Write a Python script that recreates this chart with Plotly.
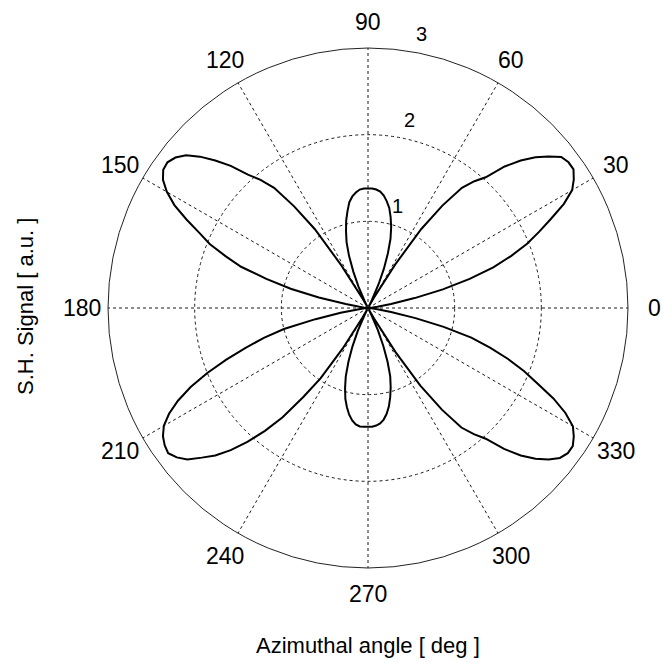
import numpy as np
import plotly.graph_objects as go

# Azimuthal angle of the sample (deg) and second-harmonic signal (a.u.)
azimuth_deg = list(range(0, 360, 2))
sh_signal = [
    # 0 - 88
    0.00, 0.00, 0.01, 0.04, 0.11, 0.27, 0.55, 0.89, 1.22, 1.52,
    1.76, 1.98, 2.16, 2.35, 2.56, 2.72, 2.80, 2.86, 2.86, 2.83,
    2.72, 2.60, 2.45, 2.27, 2.03, 1.91, 1.76, 1.46, 1.10, 0.59,
    0.14, 0.02, 0.10, 0.30, 0.49, 0.67, 0.84, 0.97, 1.08, 1.18,
    1.25, 1.31, 1.35, 1.37, 1.38,
    # 90 - 178
    1.38, 1.38, 1.37, 1.34, 1.30, 1.24, 1.14, 1.04, 0.92, 0.80,
    0.64, 0.45, 0.27, 0.09, 0.02, 0.12, 0.58, 1.10, 1.45, 1.76,
    1.93, 2.07, 2.28, 2.45, 2.61, 2.74, 2.82, 2.86, 2.85, 2.79,
    2.68, 2.53, 2.33, 2.13, 1.97, 1.75, 1.54, 1.22, 0.92, 0.58,
    0.26, 0.10, 0.04, 0.01, 0.00,
    # 180 - 268
    0.00, 0.00, 0.01, 0.04, 0.12, 0.32, 0.62, 1.00, 1.25, 1.48,
    1.74, 2.00, 2.24, 2.44, 2.60, 2.72, 2.79, 2.83, 2.85, 2.80,
    2.72, 2.58, 2.45, 2.28, 2.08, 1.85, 1.60, 1.27, 0.98, 0.55,
    0.13, 0.02, 0.09, 0.29, 0.48, 0.66, 0.83, 0.96, 1.08, 1.17,
    1.25, 1.31, 1.35, 1.37, 1.37,
    # 270 - 358
    1.37, 1.37, 1.36, 1.34, 1.30, 1.24, 1.16, 1.06, 0.95, 0.83,
    0.66, 0.47, 0.28, 0.09, 0.02, 0.14, 0.60, 1.08, 1.45, 1.75,
    1.90, 2.03, 2.26, 2.45, 2.60, 2.72, 2.81, 2.85, 2.85, 2.80,
    2.73, 2.58, 2.38, 2.14, 1.94, 1.72, 1.48, 1.24, 0.90, 0.56,
    0.27, 0.11, 0.04, 0.01, 0.00,
]

angle_ticks = list(range(0, 360, 30))
angle_tick_labels = [str(a) for a in angle_ticks]
radial_ticks = [1, 2, 3]
radial_tick_labels = ["1", "2", "3"]

R_MAX = 3.0
FONT = "Liberation Sans, Arial, sans-serif"
GRID = "#1a1a1a"

# close the curve
theta_closed = azimuth_deg + [azimuth_deg[0]]
r_closed = sh_signal + [sh_signal[0]]

W = H = 662
cx, cy, rad = 368, 308, 260          # polar centre and outer radius (px)
px_per_unit = rad / R_MAX


def to_paper(r, theta_deg, dx_px=0.0, dy_px=0.0):
    """Polar (data units, deg) -> paper coords, with optional pixel nudge."""
    a = np.deg2rad(theta_deg)
    x_px = cx + r * px_per_unit * np.cos(a) + dx_px
    y_px = cy - r * px_per_unit * np.sin(a) - dy_px
    return float(x_px / W), float((H - y_px) / H)


fig = go.Figure()

fig.add_trace(go.Scatterpolar(
    r=r_closed, theta=theta_closed, mode="lines",
    line=dict(color="black", width=2),
    hoverinfo="skip", showlegend=False,
))

annotations = []

# angular labels at 1.1 * rmax, centred on the spoke direction
for a, lab in zip(angle_ticks, angle_tick_labels):
    x, y = to_paper(1.1 * R_MAX, a)
    annotations.append(dict(
        text=lab, x=x, y=y, xref="paper", yref="paper", showarrow=False,
        xanchor="center", yanchor="middle",
        font=dict(family=FONT, size=23, color="black")))

# radial labels just beyond each ring along the 82 deg direction
for v, lab in zip(radial_ticks, radial_tick_labels):
    x, y = to_paper(v + 0.05, 82, dx_px=17, dy_px=12)
    annotations.append(dict(
        text=lab, x=x, y=y, xref="paper", yref="paper", showarrow=False,
        xanchor="center", yanchor="middle",
        font=dict(family=FONT, size=20, color="black")))

annotations += [
    dict(text="Azimuthal angle [ deg ]", x=cx / W, y=(H - 645) / H,
         xref="paper", yref="paper", showarrow=False,
         xanchor="center", yanchor="middle",
         font=dict(family=FONT, size=22, color="black")),
    dict(text="S.H. Signal [ a.u. ]", x=25 / W, y=(H - 307) / H,
         xref="paper", yref="paper", showarrow=False, textangle=-90,
         xanchor="center", yanchor="middle",
         font=dict(family=FONT, size=22, color="black")),
]

fig.update_layout(
    width=W, height=H,
    margin=dict(l=0, r=0, t=0, b=0),
    paper_bgcolor="white",
    showlegend=False,
    polar=dict(
        domain=dict(x=[(cx - rad) / W, (cx + rad) / W],
                    y=[(H - cy - rad) / H, (H - cy + rad) / H]),
        bgcolor="white",
        radialaxis=dict(
            range=[0, R_MAX], tickvals=[1, 2], showticklabels=False,
            ticks="", showline=False,
            showgrid=True, gridcolor=GRID, gridwidth=0.9,
            griddash="3px,3px",
        ),
        angularaxis=dict(
            rotation=0, direction="counterclockwise",
            tickvals=angle_ticks, showticklabels=False, ticks="",
            showline=True, linecolor="#222222", linewidth=1,
            showgrid=True, gridcolor=GRID, gridwidth=0.9,
            griddash="3px,3px",
        ),
    ),
    annotations=annotations,
)

fig.write_html("out.html", config={"displayModeBar": False})
